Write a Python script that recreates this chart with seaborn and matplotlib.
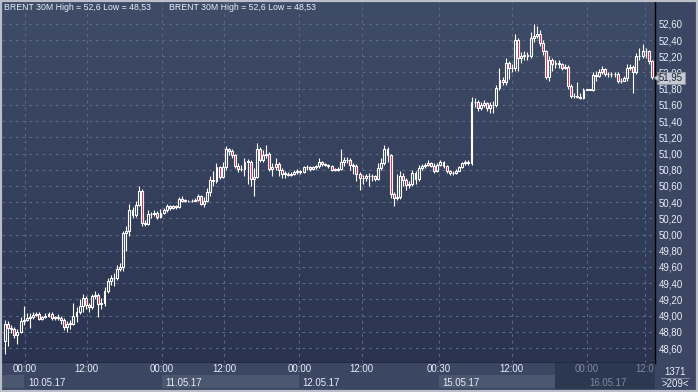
import numpy as np
import pandas as pd
import matplotlib
matplotlib.use("Agg")
import matplotlib.pyplot as plt
import seaborn as sns
from matplotlib.patches import Rectangle, Polygon

# ---------------- data ----------------
first_open = 48.69
closes = [
    48.90, 48.85, 48.83, 48.76, 48.80, 48.93, 48.95, 48.97, 48.98, 49.01,
    49.02, 48.96, 48.98, 49.00, 49.02, 48.97, 48.98, 48.97, 48.95, 48.86,
    48.90, 48.90, 49.00, 49.05, 49.12, 49.22, 49.13, 49.10, 49.24, 49.26,
    49.14, 49.15, 49.30, 49.43, 49.47, 49.46, 49.58, 49.60, 50.02, 50.04,
    50.30, 50.24, 50.37, 50.54, 50.14, 50.13, 50.25, 50.25, 50.27, 50.22,
    50.27, 50.30, 50.35, 50.33, 50.35, 50.34, 50.44, 50.42, 50.42, 50.41,
    50.42, 50.43, 50.48, 50.38, 50.42, 50.52, 50.67, 50.66, 50.83, 50.71,
    50.83, 51.06, 51.03, 50.98, 50.85, 50.81, 50.81, 50.90, 50.90, 50.69,
    50.71, 51.06, 50.92, 50.98, 51.00, 50.81, 50.83, 50.87, 50.80, 50.75,
    50.75, 50.74, 50.75, 50.77, 50.79, 50.77, 50.83, 50.83, 50.81, 50.83,
    50.84, 50.90, 50.87, 50.86, 50.84, 50.80, 50.80, 50.81, 50.90, 50.92,
    50.92, 50.86, 50.85, 50.75, 50.70, 50.70, 50.72, 50.72, 50.72, 50.69,
    50.82, 50.88, 51.06, 50.98, 50.50, 50.45, 50.46, 50.72, 50.67, 50.61,
    50.62, 50.76, 50.68, 50.82, 50.84, 50.86, 50.88, 50.85, 50.78, 50.86,
    50.90, 50.84, 50.78, 50.76, 50.76, 50.79, 50.83, 50.88, 50.90, 50.88,
    51.64, 51.63, 51.56, 51.60, 51.62, 51.56, 51.60, 51.60, 51.81, 51.91,
    51.88, 52.12, 52.06, 52.05, 52.40, 52.18, 52.20, 52.22, 52.20, 52.43,
    52.45, 52.48, 52.37, 52.26, 51.95, 52.16, 52.10, 52.12, 52.10, 52.06,
    52.07, 51.83, 51.71, 51.71, 51.70, 51.69, 51.79, 51.79, 51.79, 51.97,
    51.96, 52.00, 52.04, 51.98, 51.98, 51.98, 51.98, 51.89, 51.90, 51.93,
    52.06, 52.07, 52.00, 52.20, 52.20, 52.26, 52.26, 52.14, 51.95,
]
highs = [
    48.95, 48.93, 48.88, 48.86, 48.84, 48.98, 49.12, 49.03, 49.03, 49.05,
    49.05, 49.04, 49.00, 49.03, 49.05, 49.04, 49.00, 49.02, 49.00, 48.97,
    48.93, 48.94, 49.15, 49.10, 49.20, 49.27, 49.24, 49.15, 49.27, 49.30,
    49.28, 49.22, 49.35, 49.47, 49.50, 49.52, 49.62, 49.65, 50.05, 50.10,
    50.38, 50.34, 50.42, 50.60, 50.56, 50.18, 50.30, 50.28, 50.30, 50.29,
    50.31, 50.33, 50.38, 50.37, 50.37, 50.37, 50.46, 50.47, 50.44, 50.43,
    50.44, 50.45, 50.50, 50.49, 50.46, 50.58, 50.72, 50.78, 50.88, 50.85,
    50.90, 51.09, 51.07, 51.05, 51.00, 50.88, 50.86, 50.94, 50.93, 50.92,
    50.82, 51.13, 51.08, 51.04, 51.10, 51.02, 50.88, 50.94, 50.90, 50.82,
    50.78, 50.77, 50.77, 50.80, 50.81, 50.80, 50.85, 50.86, 50.85, 50.85,
    50.86, 50.94, 50.91, 50.88, 50.87, 50.86, 50.82, 50.83, 51.05, 50.96,
    50.96, 50.94, 50.88, 50.87, 50.77, 50.74, 50.75, 50.76, 50.75, 50.74,
    50.88, 50.95, 51.10, 51.08, 51.00, 50.52, 50.75, 50.78, 50.76, 50.70,
    50.66, 50.80, 50.78, 50.86, 50.87, 50.88, 50.92, 50.90, 50.88, 50.88,
    50.92, 50.91, 50.86, 50.80, 50.79, 50.81, 50.85, 50.90, 50.92, 50.92,
    51.70, 51.68, 51.66, 51.64, 51.66, 51.64, 51.64, 51.65, 51.85, 52.05,
    51.95, 52.18, 52.14, 52.10, 52.48, 52.42, 52.25, 52.26, 52.25, 52.50,
    52.60, 52.57, 52.52, 52.40, 52.28, 52.20, 52.18, 52.15, 52.15, 52.12,
    52.10, 52.09, 51.86, 51.75, 51.88, 51.75, 51.81, 51.80, 51.80, 52.00,
    52.02, 52.04, 52.08, 52.06, 52.01, 52.00, 52.00, 52.00, 51.93, 51.96,
    52.10, 52.10, 52.09, 52.24, 52.30, 52.35, 52.30, 52.28, 52.16,
]
lows = [
    48.53, 48.62, 48.78, 48.72, 48.65, 48.78, 48.88, 48.93, 48.85, 48.96,
    48.99, 48.94, 48.95, 48.97, 48.98, 48.95, 48.95, 48.94, 48.90, 48.82,
    48.80, 48.84, 48.88, 48.92, 49.02, 49.05, 49.08, 49.05, 49.08, 49.20,
    48.98, 49.08, 49.12, 49.28, 49.38, 49.36, 49.44, 49.55, 49.55, 49.80,
    49.98, 50.20, 50.22, 50.35, 50.10, 50.10, 50.12, 50.20, 50.23, 50.19,
    50.20, 50.25, 50.28, 50.30, 50.31, 50.32, 50.33, 50.40, 50.40, 50.40,
    50.40, 50.41, 50.42, 50.36, 50.34, 50.40, 50.48, 50.60, 50.64, 50.68,
    50.70, 50.80, 50.98, 50.94, 50.82, 50.77, 50.78, 50.72, 50.62, 50.60,
    50.47, 50.70, 50.90, 50.90, 50.95, 50.78, 50.72, 50.80, 50.72, 50.70,
    50.70, 50.72, 50.72, 50.73, 50.75, 50.75, 50.76, 50.80, 50.79, 50.80,
    50.81, 50.82, 50.85, 50.84, 50.82, 50.78, 50.78, 50.79, 50.80, 50.85,
    50.88, 50.80, 50.75, 50.66, 50.55, 50.62, 50.66, 50.60, 50.66, 50.66,
    50.67, 50.80, 50.86, 50.90, 50.45, 50.35, 50.43, 50.44, 50.60, 50.55,
    50.58, 50.60, 50.62, 50.66, 50.80, 50.82, 50.85, 50.83, 50.76, 50.77,
    50.85, 50.82, 50.76, 50.74, 50.73, 50.75, 50.78, 50.82, 50.86, 50.86,
    50.86, 51.58, 51.52, 51.54, 51.58, 51.52, 51.50, 51.50, 51.58, 51.78,
    51.85, 51.85, 51.92, 52.00, 52.02, 52.02, 52.12, 52.16, 52.15, 52.18,
    52.38, 52.42, 52.33, 52.22, 51.92, 51.90, 52.02, 52.05, 52.06, 52.03,
    52.04, 51.80, 51.68, 51.68, 51.68, 51.67, 51.67, 51.78, 51.78, 51.77,
    51.90, 51.94, 51.98, 51.96, 51.95, 51.95, 51.95, 51.87, 51.87, 51.89,
    51.90, 52.03, 51.75, 51.98, 52.16, 52.18, 52.18, 52.10, 51.92,
]
price_ticks = [48.6 + 0.2 * k for k in range(21)]
time_labels = ["00:00", "12:00", "00:00", "12:00", "00:00", "12:00",
               "00:30", "12:00", "00:00", "12:0"]
time_index = [6.4, 26.3, 50.4, 70.5, 94.6, 114.7, 139.6, 162.9, 187.0, 205.8]
date_labels = ["10.05.17", "11.05.17", "12.05.17", "15.05.17", "16.05.17"]
date_index = [6.4, 50.4, 94.6, 139.6, 187.0]
last_price = 51.95
title_text = "BRENT 30M High = 52,6 Low = 48,53"

# ---------------- styling ----------------
W, H = 698, 392
sns.set_theme(style="dark")
plt.rcParams["font.family"] = ["Liberation Sans", "DejaVu Sans"]

PANEL = "#3b4762"
TXT = "#e8eef8"
RED = "#e8163c"
GRID = "#5d6983"
FS = 6.9

fig = plt.figure(figsize=(W / 100, H / 100), dpi=100, facecolor=PANEL)

def px_rect(x0, y0, x1, y1):
    return [x0 / W, 1 - y1 / H, (x1 - x0) / W, (y1 - y0) / H]

ax = fig.add_axes(px_rect(2, 2, 655, 363))
axb = fig.add_axes(px_rect(2, 363, 655, 389), sharex=ax)

n = len(closes)
df = pd.DataFrame({"close": closes, "high": highs, "low": lows})
df["open"] = [first_open] + closes[:-1]
df["x"] = np.arange(n)

# gradient background
grad = np.linspace(0, 1, 256).reshape(-1, 1)
cmap = matplotlib.colors.LinearSegmentedColormap.from_list("bg", ["#3f4c68", "#2a3450"])
ax.imshow(grad, extent=[0, 1, 0, 1], transform=ax.transAxes, cmap=cmap,
          aspect="auto", zorder=0, origin="upper")

ax.set_xlim(-0.96, 209.0)
ax.set_ylim(48.415, 52.87)

# grid
for p in price_ticks:
    ax.axhline(p, color=GRID, lw=0.8, ls=(0, (2.5, 3.5)), zorder=1)
for t in time_index:
    ax.axvline(t, color=GRID, lw=0.8, ls=(0, (2.5, 3.5)), zorder=1)

# candles
body_w = 0.62
bt = np.minimum(df["open"], df["close"])
tp = np.maximum(df["open"], df["close"])
ax.vlines(df["x"], df["low"], bt, color="white", lw=0.8, zorder=2)
ax.vlines(df["x"], tp, df["high"], color="white", lw=0.8, zorder=2)
up = df["close"] >= df["open"]
heights = np.maximum(tp - bt, 0.004)
ax.bar(df["x"][up], heights[up], bottom=bt[up], width=body_w,
       facecolor="none", edgecolor="white", linewidth=0.8, zorder=3)
ax.bar(df["x"][~up], heights[~up], bottom=bt[~up], width=body_w,
       facecolor=RED, edgecolor="white", linewidth=0.8, zorder=3)

# axes styling
ax.set_facecolor("#34405b")
ax.yaxis.tick_right()
ax.set_yticks(price_ticks)
ax.set_yticklabels([f"{p:.2f}".replace(".", ",") for p in price_ticks],
                   fontsize=FS, color=TXT)
ax.tick_params(axis="y", length=0, pad=3)
ax.tick_params(axis="x", length=0, labelbottom=False)
for s in ["top", "left"]:
    ax.spines[s].set_visible(False)
for s in ["right", "bottom"]:
    ax.spines[s].set_color("black")
    ax.spines[s].set_linewidth(1.0)
ax.grid(False)

# title
for xp in [4, 169]:
    fig.text(xp / W, 1 - 8 / H, title_text, fontsize=6.3, color=TXT,
             va="center", ha="left")

# last price marker (covers the 52,00 label as in the reference)
fig.patches.append(Rectangle((657 / W, 1 - 84 / H), 28 / W, 12 / H,
                             transform=fig.transFigure, facecolor="#c6cad2",
                             edgecolor="#8c93a0", lw=0.6, zorder=5))
fig.patches.append(Polygon([(654 / W, 1 - 78 / H), (659 / W, 1 - 73.5 / H),
                            (659 / W, 1 - 82.5 / H)], closed=True,
                           transform=fig.transFigure, facecolor="#c6cad2",
                           edgecolor="#50586a", lw=0.6, zorder=6))
fig.text(671 / W, 1 - 78 / H, f"{last_price:.2f}".replace(".", ","),
         fontsize=FS, color="#1b2234", ha="center", va="center", zorder=7)

# bottom panel
axb.set_facecolor(PANEL)
axb.set_ylim(0, 1)
axb.set_yticks([])
axb.tick_params(axis="x", length=0, labelbottom=False)
for s in axb.spines.values():
    s.set_visible(False)
axb.grid(False)
BOX = "#4b576f"
axb.add_patch(Rectangle((-0.96, 0.02), 7.2, 0.5, facecolor=BOX, lw=0))
axb.add_patch(Rectangle((date_index[1], 0.02), date_index[2] - date_index[1], 0.5,
                        facecolor=BOX, lw=0))
axb.add_patch(Rectangle((date_index[3], 0.02), 37.4, 0.5, facecolor=BOX, lw=0))
axb.add_patch(Rectangle((177.0, 0.0), 32.0, 1.0, facecolor="#2c3750", lw=0))
for t, lab in zip(time_index, time_labels):
    c = "#7f8aa0" if t > 177 else TXT
    axb.text(t, 0.78, lab, fontsize=FS, color=c, ha="center", va="center")
for t, lab in zip(date_index, date_labels):
    c = "#7f8aa0" if t > 177 else TXT
    axb.text(t + 1.0, 0.25, lab, fontsize=FS, color=c, ha="left", va="center")

# corner box
fig.text(675 / W, 1 - 372 / H, "1371", fontsize=FS, color=TXT, ha="center", va="center")
fig.text(675 / W, 1 - 384 / H, ">209<", fontsize=FS, color=TXT, ha="center", va="center")
fig.lines.append(matplotlib.lines.Line2D([661 / W, 689 / W], [1 - 378 / H, 1 - 378 / H],
                                         transform=fig.transFigure, color="#8a94a8", lw=0.6))

# outer frame
fig.patches.append(Rectangle((0, 0), 1, 1, transform=fig.transFigure,
                             facecolor="none", edgecolor="#b9bec8", lw=3, zorder=10))

fig.savefig("out.png", dpi=100, facecolor=fig.get_facecolor())
